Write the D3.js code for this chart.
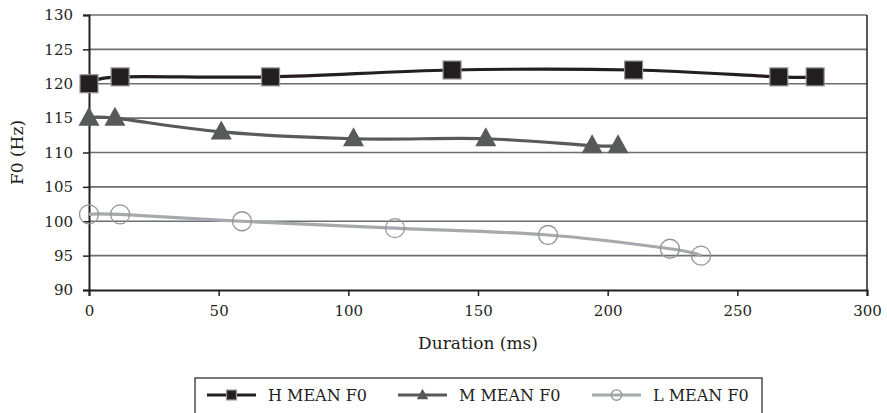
<!DOCTYPE html>
<html>
<head>
<meta charset="utf-8">
<script src="https://d3js.org/d3.v7.min.js"></script>
<style>
  body { margin: 0; background: #fff; }
  svg { display: block; }
  svg text { font-family: "DejaVu Serif", "Liberation Serif", "Times New Roman", serif !important; }
</style>
</head>
<body>
<div id="chart"></div>
<script>
// Data
const hDur = [0, 12, 70, 140, 210, 266, 280];
const hF0 = [120, 121, 121, 122, 122, 121, 121];
const mDur = [0, 10, 51, 102, 153, 194, 204];
const mF0 = [115, 115, 113, 112, 112, 111, 111];
const lDur = [0, 12, 59, 118, 177, 224, 236];
const lF0 = [101, 101, 100, 99, 98, 96, 95];
const xTicks = [0, 50, 100, 150, 200, 250, 300];
const yTicks = [90, 95, 100, 105, 110, 115, 120, 125, 130];
const seriesNames = ['H MEAN F0', 'M MEAN F0', 'L MEAN F0'];

const INK = '#231f20';

const width = 887, height = 413;
const margin = { left: 89, right: 20, top: 15, bottom: 123 };

const svg = d3.select('#chart').append('svg')
    .attr('width', width)
    .attr('height', height);

const x = d3.scaleLinear().domain([0, 300]).range([margin.left, width - margin.right]);
const y = d3.scaleLinear().domain([90, 130]).range([height - margin.bottom, margin.top]);

// gridlines
svg.append('g')
    .selectAll('line')
    .data(yTicks.filter(d => d > 90))
    .enter().append('line')
    .attr('x1', x(0)).attr('x2', x(300))
    .attr('y1', d => y(d)).attr('y2', d => y(d))
    .attr('stroke', '#6d6e71')
    .attr('stroke-width', 1.6);

// right border of plot
svg.append('line')
    .attr('x1', x(300)).attr('x2', x(300))
    .attr('y1', y(130)).attr('y2', y(90))
    .attr('stroke', INK).attr('stroke-width', 1.5);

// axes
const yAxis = svg.append('g')
    .attr('transform', `translate(${x(0)},0)`)
    .call(d3.axisLeft(y).tickValues(yTicks).tickSize(6).tickPadding(10));
const xAxis = svg.append('g')
    .attr('transform', `translate(0,${y(90)})`)
    .call(d3.axisBottom(x).tickValues(xTicks).tickSize(6).tickPadding(9));

[yAxis, xAxis].forEach(a => {
    a.attr('font-family', null).attr('font-size', null);
    a.select('.domain').attr('stroke', INK).attr('stroke-width', 2);
    a.selectAll('.tick line').attr('stroke', INK).attr('stroke-width', 1.5);
    a.selectAll('.tick text').attr('fill', INK).style('font-size', '15px');
});

// axis titles
svg.append('text')
    .attr('x', (x(0) + x(300)) / 2)
    .attr('y', 349)
    .attr('text-anchor', 'middle')
    .style('font-size', '17px')
    .attr('fill', INK)
    .text('Duration (ms)');

svg.append('text')
    .attr('transform', `translate(23,${(y(90) + y(130)) / 2}) rotate(-90)`)
    .attr('text-anchor', 'middle')
    .style('font-size', '17px')
    .attr('fill', INK)
    .text('F0 (Hz)');

const line = d3.line()
    .x(d => x(d[0]))
    .y(d => y(d[1]))
    .curve(d3.curveCatmullRom.alpha(0));

const series = [
    { name: seriesNames[0], pts: d3.zip(hDur, hF0), color: INK, marker: 'square' },
    { name: seriesNames[1], pts: d3.zip(mDur, mF0), color: '#58595b', marker: 'triangle' },
    { name: seriesNames[2], pts: d3.zip(lDur, lF0), color: '#a7a9ac', marker: 'circle' }
];

function drawMarker(g, type, cx, cy, scale) {
    if (type === 'square') {
        const s = 18 * scale;
        g.append('rect')
            .attr('x', cx - s / 2).attr('y', cy - s / 2)
            .attr('width', s).attr('height', s)
            .attr('fill', INK)
            .attr('stroke', '#939598').attr('stroke-width', 1.2);
    } else if (type === 'triangle') {
        const w = 21 * scale, h = 19 * scale;
        g.append('path')
            .attr('d', `M${cx},${cy - h * 0.6}L${cx + w / 2},${cy + h * 0.4}L${cx - w / 2},${cy + h * 0.4}Z`)
            .attr('fill', '#58595b');
    } else {
        g.append('circle')
            .attr('cx', cx).attr('cy', cy).attr('r', 9.5 * scale)
            .attr('fill', 'none')
            .attr('stroke', '#939598').attr('stroke-width', 1.3);
    }
}

series.forEach(s => {
    svg.append('path')
        .datum(s.pts)
        .attr('d', line)
        .attr('fill', 'none')
        .attr('stroke', s.color)
        .attr('stroke-width', 3.2);
    const g = svg.append('g');
    s.pts.forEach(p => drawMarker(g, s.marker, x(p[0]), y(p[1]), 1));
});

// legend
const legend = svg.append('g');
legend.append('rect')
    .attr('x', 195).attr('y', 378)
    .attr('width', 567).attr('height', 50)
    .attr('fill', '#fff')
    .attr('stroke', INK).attr('stroke-width', 1.2);

const legendX = [207, 398, 592];
series.forEach((s, i) => {
    const lx = legendX[i], ly = 395;
    legend.append('line')
        .attr('x1', lx).attr('x2', lx + 49)
        .attr('y1', ly).attr('y2', ly)
        .attr('stroke', s.color).attr('stroke-width', 3.2);
    drawMarker(legend, s.marker, lx + 24.5, ly, 0.55);
    legend.append('text')
        .attr('x', lx + 61)
        .attr('y', ly + 6)
        .style('font-size', '16px')
        .attr('fill', INK)
        .text(s.name);
});
</script>
</body>
</html>
